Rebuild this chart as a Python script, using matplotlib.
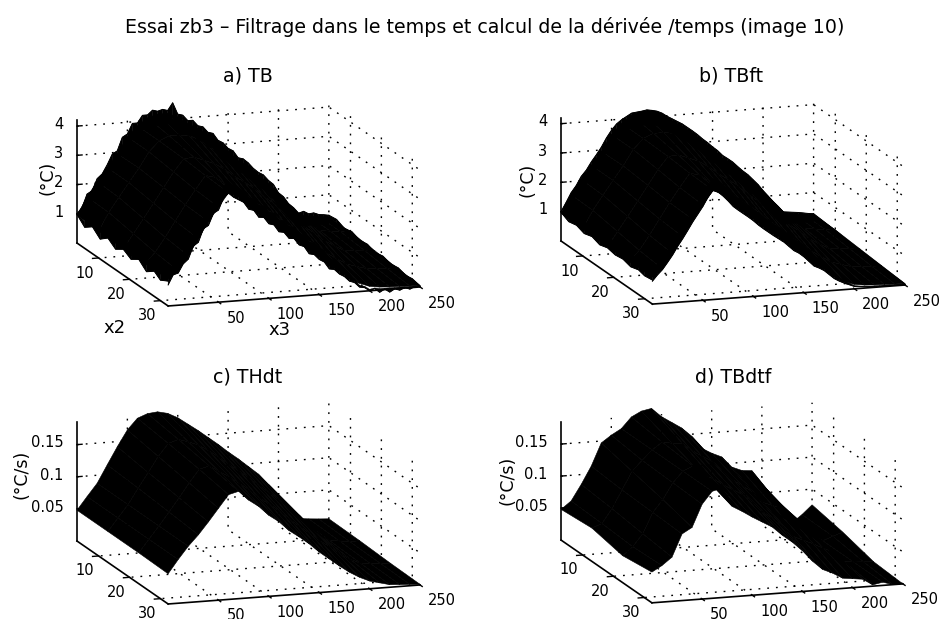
import numpy as np
import matplotlib
matplotlib.use("Agg")
import matplotlib.pyplot as plt
from mpl_toolkits.mplot3d import proj3d

plt.rcParams['font.family'] = ['DejaVu Sans']

W, H = 939, 619

# ---- data ----
x3_core = [0,10,20,30,40,50,60,70,80,90,100,110,120,130,140,150,160,170,180,190,200,210,220,230,240,250]
x3_fine = [0,5,10,15,20,25,30,35,40,45,50,55,60,65,70,75,80,85,90,95,100,105,110,115,120,125,130,135,140,145,150,155,160,165,170,175,180,185,190,195,200,205,210,215,220,225,230,235,240,245,250]
x2_rows5 = [3,10,18,25,32.5]
x2_rows4 = [3,13,23,32.5]
x2_fine = [3,5.5,8,10.5,13,15.5,18,20.5,23,25.5,28,30,32.5]

T_row03 = [.95,1.55,2.05,2.5,2.95,3.5,3.85,4.1,4.2,4.2,4.05,3.8,3.6,3.35,3.05,2.75,2.4,2.2,1.85,1.55,1.1,.7,.38,.33,.28,.24]
T_row10 = [.92,1.53,2.02,2.5,2.97,3.5,3.85,4.0,4.0,3.95,3.78,3.52,3.3,3.06,2.75,2.47,2.12,1.92,1.58,1.31,.94,.63,.36,.32,.28,.24]
T_row18 = [.9,1.39,1.88,2.38,2.89,3.4,3.82,3.85,3.72,3.58,3.37,3.1,2.87,2.63,2.31,2.05,1.7,1.51,1.18,.94,.65,.44,.26,.23,.2,.17]
T_row25 = [.9,1.26,1.75,2.28,2.81,3.3,3.76,3.67,3.43,3.23,2.99,2.7,2.46,2.22,1.9,1.65,1.31,1.11,.8,.58,.37,.26,.16,.14,.12,.11]
T_row32 = [.92,1.18,1.67,2.22,2.78,3.25,3.72,3.55,3.18,2.92,2.65,2.35,2.1,1.86,1.53,1.3,.96,.77,.47,.28,.15,.1,.08,.07,.06,.05]

TB_back = [1.0,1.2,1.65,1.75,2.15,2.3,2.6,2.95,3.05,3.5,3.6,3.95,3.95,4.2,4.2,4.35,4.3,4.35,4.3,4.55,4.15,4.1,3.9,3.9,3.7,3.65,3.45,3.4,3.15,3.05,2.85,2.75,2.5,2.45,2.3,2.1,1.95,1.85,1.65,1.5,1.2,1.05,.8,.65,.45,.5,.4,.42,.35,.33,.3]
TB_front = [.72,1.05,1.1,1.4,1.55,1.98,2.1,2.55,2.65,3.05,3.15,3.55,3.7,3.55,3.45,3.35,3.1,3.05,2.8,2.78,2.55,2.5,2.25,2.22,2.0,1.98,1.75,1.68,1.42,1.38,1.2,1.1,.85,.82,.65,.55,.38,.32,.15,.12,.0,.06,-.08,.02,-.1,.0,-.06,.02,-.05,.03,.02]
TB_left = [.98,.72,.92,.68,.9,.7,.88,.72,.9,.66,.86,.7,.85]
TB_right = [.3,.34,.22,.28,.18,.22,.12,.18,.1,.14,.06,.1,.04]

TBft_back = [1.0,1.3,1.62,1.85,2.15,2.35,2.62,2.85,3.1,3.4,3.65,3.85,3.98,4.08,4.18,4.2,4.22,4.25,4.22,4.18,4.1,3.98,3.88,3.78,3.68,3.55,3.42,3.28,3.12,2.98,2.82,2.68,2.5,2.38,2.25,2.08,1.92,1.78,1.6,1.42,1.2,1.0,.8,.62,.42,.4,.38,.36,.33,.3,.28]
TBft_front = [.78,.98,1.15,1.38,1.62,1.9,2.15,2.42,2.7,2.95,3.2,3.5,3.72,3.65,3.5,3.32,3.12,2.98,2.85,2.72,2.58,2.42,2.28,2.15,2.02,1.9,1.78,1.62,1.46,1.36,1.22,1.05,.88,.8,.7,.55,.4,.3,.22,.15,.08,.06,.04,.03,.03,.02,.02,.02,.02,.02,.02]
TBft_left = [.98,.84,.9,.8,.88,.78,.86,.8,.84,.76,.84,.78,.82]
TBft_right = [.28,.26,.24,.22,.18,.16,.14,.12,.1,.08,.06,.05,.03]

THdt_row03 = [.048,.068,.0875,.115,.142,.167,.184,.19,.1916,.188,.18,.169,.158,.146,.134,.121,.109,.096,.083,.066,.045,.024,.009,.0073,.006,.005]
THdt_row13 = [.048,.068,.0875,.112,.135,.159,.178,.183,.178,.172,.162,.151,.139,.127,.115,.102,.09,.077,.063,.051,.034,.019,.008,.006,.004,.004]
THdt_row23 = [.048,.068,.0875,.108,.129,.151,.171,.175,.165,.156,.144,.133,.119,.108,.096,.082,.07,.058,.045,.035,.023,.013,.006,.004,.003,.002]
THdt_row32 = [.047,.068,.0875,.104,.123,.143,.163,.167,.152,.141,.126,.115,.1,.089,.077,.063,.051,.039,.028,.019,.012,.008,.004,.003,.002,.001]

TBdtf_row03 = [.048,.06,.0846,.112,.147,.158,.167,.184,.192,.195,.181,.171,.161,.147,.127,.118,.111,.094,.0875,.086,.064,.044,.011,.0,.0115,.0255]
TBdtf_row13 = [.052,.058,.08,.108,.136,.152,.167,.178,.175,.174,.161,.151,.142,.128,.111,.1,.09,.072,.066,.06,.047,.034,.012,.005,.011,.016]
TBdtf_row23 = [.042,.055,.074,.106,.125,.15,.167,.174,.158,.152,.141,.132,.123,.11,.094,.082,.068,.052,.045,.038,.03,.023,.007,.005,.004,.003]
TBdtf_row32 = [.048,.057,.069,.104,.113,.148,.167,.171,.141,.132,.122,.113,.104,.09,.078,.0635,.046,.032,.025,.016,.014,.012,.002,.005,.0,.0]

x3_ticks = [50,100,150,200,250]
x2_ticks = [10,20,30]
T_zticks = [1,2,3,4]
dT_zticks = [0.05,0.1,0.15]
dT_zlabels = ['0.05','0.1','0.15']

ELEV, AZIM = 13.2, -108.3
FS = 10.5

fig = plt.figure(figsize=(W/100, H/100), dpi=100)


def px(ax, x, y, z):
    ax.apply_aspect()
    xs, ys, _ = proj3d.proj_transform(x, y, z, ax.get_proj())
    return np.array(ax.transData.transform((xs, ys)))


def panel(left_rect, rows, x2, zlim, zticks, zlabels, A, C, lz):
    ax = fig.add_axes(left_rect, projection='3d', proj_type='ortho')
    ax.view_init(elev=ELEV, azim=AZIM)
    ax.set_xlim(0, 250)
    ax.set_ylim(32.5, 3)
    ax.set_zlim(*zlim)
    ax.set_box_aspect((265, 290, lz), zoom=1.0)
    ax.patch.set_alpha(0)
    X, Y = np.meshgrid(x3_core, x2)
    ax.plot_surface(X, Y, np.array(rows), rstride=1, cstride=1, color='black',
                    edgecolor='black', linewidth=0.4, shade=False, antialiased=True)
    ax.set_xticks(x3_ticks)
    ax.set_yticks(x2_ticks)
    ax.set_zticks(zticks)
    ax.set_zticklabels(zlabels)
    for axis in (ax.xaxis, ax.yaxis, ax.zaxis):
        axis.set_pane_color((1, 1, 1, 0))
        axis.pane.set_edgecolor((1, 1, 1, 0))
        axis.line.set_linewidth(1.2)
        axis.line.set_color('black')
        info = axis._axinfo
        info['grid'].update(color='black', linewidth=1.0, linestyle=(0, (1.3, 5)))
        info['tick'].update(inward_factor=0.3, outward_factor=0.0)
        info['tick']['linewidth'] = {True: 1.0, False: 1.0}
    ax.zaxis._axinfo['tick'].update(inward_factor=0.0, outward_factor=0.25)
    ax.tick_params(axis='x', labelsize=FS, pad=5)
    ax.tick_params(axis='y', labelsize=FS, pad=0)
    ax.tick_params(axis='z', labelsize=FS, pad=-2)
    for t in ax.get_xticklabels():
        t.set_ha('left')
        t.set_va('center')
    for t in ax.get_zticklabels():
        t.set_ha('right')
        t.set_va('center')
    # size the box so that two floor corners land where the reference has them
    target_a = np.array([A[0], H - A[1]], float)
    target_c = np.array([C[0], H - C[1]], float)
    for _ in range(3):
        a = px(ax, 0, 3, 0)
        c = px(ax, 250, 32.5, 0)
        scale = np.linalg.norm(target_c - target_a) / np.linalg.norm(c - a)
        pos = ax.get_position(original=True)
        ax.set_position([pos.x0, pos.y0, pos.width * scale, pos.height * scale])
        a = px(ax, 0, 3, 0)
        c = px(ax, 250, 32.5, 0)
        shift = ((target_a - a) + (target_c - c)) / 2
        pos = ax.get_position(original=True)
        ax.set_position([pos.x0 + shift[0] / W, pos.y0 + shift[1] / H, pos.width, pos.height])
    return ax


def edges(ax, back, front, left, right, lw):
    kw = dict(color='black', edgecolor='black', linewidth=0.3, shade=False, rstride=1, cstride=1)
    back, front, left, right = map(np.array, (back, front, left, right))
    xf = np.array(x3_fine, float)
    yf = np.array(x2_fine, float)
    # ribbons close the gap between the jagged rim and the coarser surface behind it
    taper = np.minimum(1.0, xf / 20.0)
    ax.plot_surface(np.array([xf, xf]), np.full((2, xf.size), 3.0),
                    np.array([back, np.maximum(back - 0.5 * taper, 0)]), **kw)
    ax.plot_surface(np.array([xf, xf]), np.full((2, xf.size), 32.5),
                    np.array([front, np.maximum(front + 0.4 * np.clip(front, 0, 1), 0.05)]), **kw)
    side = np.minimum(1.0, (yf - 3) / 5.0)
    ax.plot_surface(np.zeros((2, yf.size)), np.array([yf, yf]),
                    np.array([left, left + 0.4 * side]), **kw)
    ax.plot_surface(np.full((2, yf.size), 250.0), np.array([yf, yf]),
                    np.array([right, np.maximum(right - 0.1, 0)]), **kw)
    ax.plot(xf, np.full(xf.size, 3.0), back, color='black', lw=lw)
    ax.plot(xf, np.full(xf.size, 32.5), front, color='black', lw=lw)
    ax.plot(np.zeros(yf.size), yf, left, color='black', lw=lw)
    ax.plot(np.full(yf.size, 250.0), yf, right, color='black', lw=lw)


T_rows = [T_row03, T_row10, T_row18, T_row25, T_row32]
labels_T = [str(v) for v in T_zticks]

axa = panel([0.05, 0.5, 0.4, 0.5], T_rows, x2_rows5, (0, 4.2), T_zticks, labels_T, (77, 243), (420, 287), 126)
edges(axa, TB_back, TB_front, TB_left, TB_right, 0.7)

axb = panel([0.55, 0.5, 0.4, 0.5], T_rows, x2_rows5, (0, 4.2), T_zticks, labels_T, (561, 241), (905, 285), 126)
edges(axb, TBft_back, TBft_front, TBft_left, TBft_right, 0.7)

axc = panel([0.05, 0.0, 0.4, 0.5], [THdt_row03, THdt_row13, THdt_row23, THdt_row32], x2_rows4, (0, 0.185),
            dT_zticks, dT_zlabels, (77, 541), (420, 585), 122)
axd = panel([0.55, 0.0, 0.4, 0.5], [TBdtf_row03, TBdtf_row13, TBdtf_row23, TBdtf_row32], x2_rows4, (0, 0.185),
            dT_zticks, dT_zlabels, (561, 541), (903, 583), 122)

fig.text(485 / W, 1 - 27 / H, 'Essai zb3 – Filtrage dans le temps et calcul de la dérivée /temps (image 10)',
         ha='center', va='center', fontsize=13.7)
for (tx, ty, s) in [(248, 76, 'a) TB'), (731, 76, 'b) TBft'), (248, 377, 'c) THdt'), (733, 377, 'd) TBdtf')]:
    fig.text(tx / W, 1 - ty / H, s, ha='center', va='center', fontsize=13.7)
for (tx, ty, s) in [(47, 178, '(°C)'), (528, 180, '(°C)'), (22, 474, '(°C/s)'), (507, 480, '(°C/s)')]:
    fig.text(tx / W, 1 - ty / H, s, ha='center', va='center', rotation=90, fontsize=12.5)
fig.text(115 / W, 1 - 328 / H, 'x2', ha='center', va='center', fontsize=13)
fig.text(280 / W, 1 - 330 / H, 'x3', ha='center', va='center', fontsize=13)

fig.savefig('out.png', dpi=100)
